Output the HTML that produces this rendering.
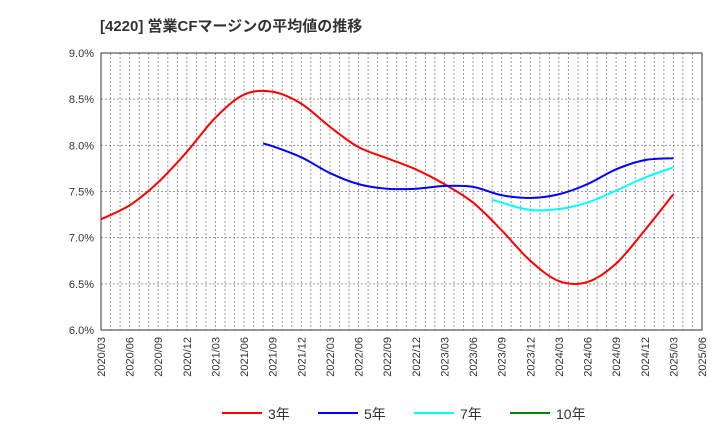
<!DOCTYPE html>
<html><head><meta charset="utf-8"><style>
body{margin:0;background:#fff;font-family:"Liberation Sans","Noto Sans CJK JP",sans-serif}
svg text{font-family:"Liberation Sans","Noto Sans CJK JP",sans-serif}
</style></head><body>
<svg id="c" width="720" height="440" xmlns="http://www.w3.org/2000/svg">
<text x="100" y="31" font-size="15" font-weight="bold" fill="#333">[4220]  営業CFマージンの平均値の推移</text>
</svg>
<script>
const xLabels=["2020/03","2020/06","2020/09","2020/12","2021/03","2021/06","2021/09","2021/12","2022/03","2022/06","2022/09","2022/12","2023/03","2023/06","2023/09","2023/12","2024/03","2024/06","2024/09","2024/12","2025/03","2025/06"];
const yTicks=[6.0,6.5,7.0,7.5,8.0,8.5,9.0];
const m3=[0,3,6,9,12,15,18,21,24,27,30,33,36,39,42,45,48,51,54,57,60];
const s3=[7.2,7.35,7.6,7.93,8.3,8.55,8.58,8.45,8.2,7.98,7.86,7.74,7.58,7.38,7.08,6.75,6.53,6.52,6.72,7.08,7.47];
const m5=[17,18,21,24,27,30,33,36,39,42,45,48,51,54,57,60];
const s5=[8.02,7.99,7.87,7.7,7.58,7.53,7.53,7.56,7.55,7.46,7.43,7.47,7.58,7.74,7.84,7.86];
const m7=[41,42,45,48,51,54,57,60];
const s7=[7.41,7.38,7.3,7.31,7.38,7.51,7.65,7.76];
const m10=[];
const s10=[];
const L=101,R=702,T=53,B=330;
const svg=document.getElementById('c');const NS='http://www.w3.org/2000/svg';
const totalM=(xLabels.length-1)*3;
const xm=m=>L+m*(R-L)/totalM;
const ys=v=>B-(v-6)/3*(B-T);
function mk(t,a){const e=document.createElementNS(NS,t);for(const k in a)e.setAttribute(k,a[k]);svg.appendChild(e);return e;}
for(let m=1;m<totalM;m++){const x=xm(m);
const g=mk('line',{x1:x,x2:x,y1:T,y2:B,stroke:'#999','stroke-dasharray':'2,2','stroke-width':1});

}
yTicks.forEach(v=>{const y=ys(v);
if(v>6&&v<9){const g=mk('line',{x1:L,x2:R,y1:y,y2:y,stroke:'#999','stroke-dasharray':'2,2'});

}
const t=mk('text',{x:L-7,y:y+4,'font-size':11,'text-anchor':'end',fill:'#333'});t.textContent=v.toFixed(1)+'%';

});
xLabels.forEach((l,i)=>{const x=xm(i*3);const t=mk('text',{x:x+4,y:B+7,'font-size':11,'text-anchor':'end',fill:'#333',transform:`rotate(-90 ${x+4} ${B+7})`});t.textContent=l;

});
const fr=mk('rect',{x:L,y:T,width:R-L,height:B-T,fill:'none',stroke:'#333'});


function path(ms,arr,col,name){const p=[];arr.forEach((v,i)=>{if(v!=null)p.push([xm(ms[i]),ys(v)]);});if(p.length<2)return;
let d=`M${p[0][0]},${p[0][1]}`;for(let i=0;i<p.length-1;i++){const p0=p[i-1]||p[i],p1=p[i],p2=p[i+1],p3=p[i+2]||p2;
d+=` C${p1[0]+(p2[0]-p0[0])/6},${p1[1]+(p2[1]-p0[1])/6} ${p2[0]-(p3[0]-p1[0])/6},${p2[1]-(p3[1]-p1[1])/6} ${p2[0]},${p2[1]}`;}
const e=mk('path',{d,fill:'none',stroke:col,'stroke-width':2});

}
path(m3,s3,'#f00','series-3y');path(m5,s5,'#00f','series-5y');path(m7,s7,'#0ff','series-7y');path(m10,s10,'#080','series-10y');
[['3年','#f00',222],['5年','#00f',318],['7年','#0ff',414],['10年','#080',510]].forEach(([n,c,x])=>{
const l=mk('line',{x1:x,x2:x+40,y1:413,y2:413,stroke:c,'stroke-width':2});


const t=mk('text',{x:x+46,y:419,'font-size':14,fill:'#333'});t.textContent=n;

});
</script>
</body></html>
